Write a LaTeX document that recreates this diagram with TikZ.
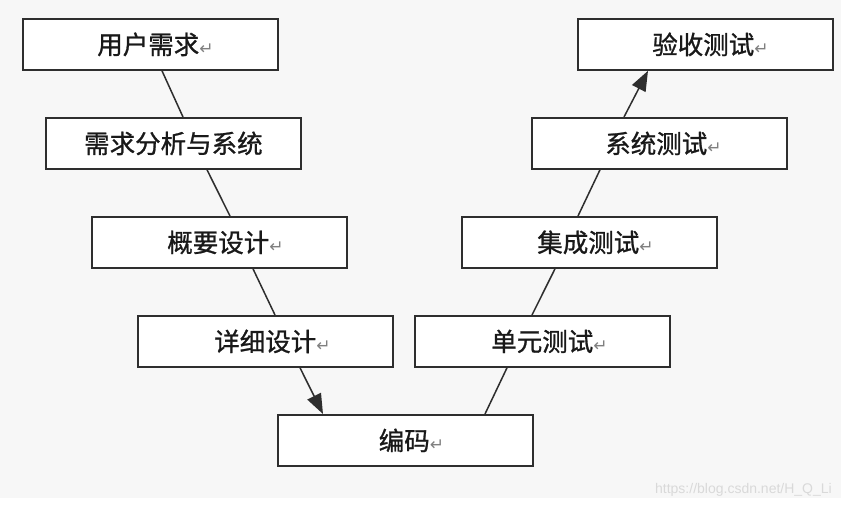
\documentclass[tikz,border=0pt]{standalone}
\usepackage{fontspec}
\setmainfont{Liberation Sans}
\newfontfamily\cjk[FakeBold=1]{Noto Sans CJK SC}
\newfontfamily\dvs{DejaVu Sans}
\usetikzlibrary{arrows.meta}
\definecolor{bgc}{HTML}{F7F7F7}
\definecolor{linec}{HTML}{2E2E2E}
\definecolor{wmc}{HTML}{D9D9D9}
\newcommand{\ret}{{\dvs\color{gray}\fontsize{17}{17}\selectfont ↵}}
\tikzset{
  stagebox/.style={draw=linec, line width=1.8pt, fill=white, minimum width=255pt, minimum height=51pt,
    inner sep=0pt, anchor=north west, font=\cjk\fontsize{25.5}{25.5}\selectfont, text=black!90},
  link/.style={draw=linec, line width=1.5pt},
  arrowlink/.style={link, -{Triangle[length=20pt,width=15pt]}}
}
\begin{document}
\begin{tikzpicture}[x=1pt,y=-1pt]
\fill[white] (0,0) rectangle (841,506);
\fill[bgc] (0,0) rectangle (841,498);
\useasboundingbox (0,0) rectangle (841,506);

\node[stagebox] (a1) at (22,18) {\hspace*{10pt}用户需求\ret};
\node[stagebox] (a2) at (45,117) {需求分析与系统};
\node[stagebox] (a3) at (91,216) {\hspace*{12pt}概要设计\ret};
\node[stagebox] (a4) at (137,315) {\hspace*{14pt}详细设计\ret};
\node[stagebox] (code) at (277,414) {\hspace*{12pt}编码\ret};
\node[stagebox] (b1) at (414,315) {\hspace*{14pt}单元测试\ret};
\node[stagebox] (b2) at (461,216) {\hspace*{12pt}集成测试\ret};
\node[stagebox] (b3) at (531,117) {\hspace*{8pt}系统测试\ret};
\node[stagebox] (b4) at (577,18) {\hspace*{10pt}验收测试\ret};

\draw[link] ([xshift=140pt]a1.south west) -- ([xshift=138pt]a2.north west);
\draw[link] ([xshift=162pt]a2.south west) -- ([xshift=139pt]a3.north west);
\draw[link] ([xshift=162pt]a3.south west) -- ([xshift=138pt]a4.north west);
\draw[arrowlink] ([xshift=163pt]a4.south west) -- ([xshift=46pt]code.north west);
\draw[link] ([xshift=208pt]code.north west) -- ([xshift=93pt]b1.south west);
\draw[link] ([xshift=118pt]b1.north west) -- ([xshift=94pt]b2.south west);
\draw[link] ([xshift=117pt]b2.north west) -- ([xshift=69pt]b3.south west);
\draw[arrowlink] ([xshift=93pt]b3.north west) -- ([xshift=71pt]b4.south west);

\node[anchor=base east, text=wmc, font=\fontsize{14}{14}\selectfont, inner sep=0pt] (wm) at (832,493) {https://blog.csdn.net/H\_Q\_Li};
\end{tikzpicture}
\end{document}
